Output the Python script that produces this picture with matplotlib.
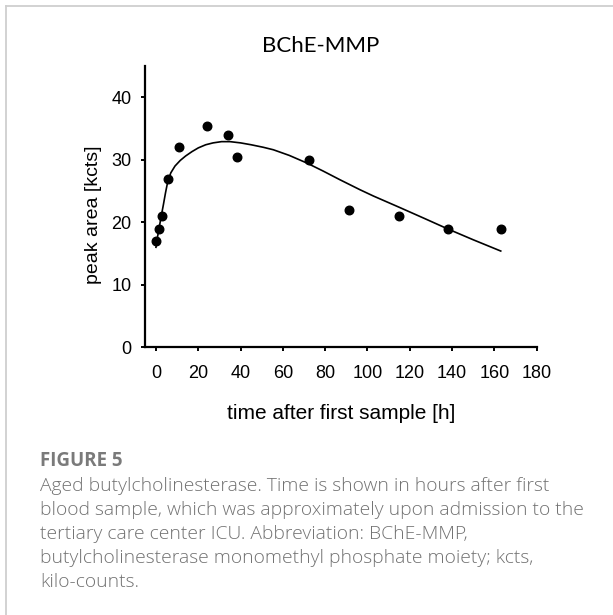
import matplotlib
matplotlib.use("Agg")
import matplotlib.pyplot as plt
from matplotlib.lines import Line2D

# measured data points
time_h = [0, 1.6, 2.7, 5.5, 10.7, 24.3, 33.9, 38.1, 72.2, 91.1, 115.0, 138.2, 163.1]
peak_area = [17.0, 19.0, 21.0, 27.0, 32.0, 35.4, 34.0, 30.5, 30.0, 22.0, 21.0, 19.0, 19.0]

# fitted curve
fit_x = [0, 0.8, 1.6, 2.5, 3.5, 4.5, 5.5, 7.0, 9.0, 11.5, 14.0, 17.0, 20.0, 23.5, 27.0,
         31.0, 35.0, 40.0, 45.0, 50.7, 55.5, 63.0, 71.2, 79.0, 87.0, 96.5, 102.8,
         115.0, 127.0, 138.2, 150.0, 163.0]
fit_y = [16.0, 17.8, 19.3, 21.0, 22.8, 24.7, 26.4, 27.9, 29.0, 29.9, 30.6, 31.3, 31.9,
         32.4, 32.7, 32.9, 32.9, 32.7, 32.4, 32.0, 31.6, 30.7, 29.5, 28.2, 26.8, 25.2,
         24.2, 22.4, 20.6, 18.9, 17.2, 15.4]

x_ticks = [0, 20, 40, 60, 80, 100, 120, 140, 160, 180]
y_ticks = [0, 10, 20, 30, 40]

W, H = 613, 615
fig = plt.figure(figsize=(W / 100, H / 100), dpi=100)
fig.patch.set_facecolor("white")

ax = fig.add_axes([145.4 / W, 1 - 347.3 / H, 391.3 / W, 281.3 / H])
ax.plot(fit_x, fit_y, color="black", lw=1.2, zorder=2)
ax.scatter(time_h, peak_area, s=38, color="black", zorder=3, clip_on=False)

ax.set_xlim(-5, 180)
ax.set_ylim(0, 45)
ax.set_xticks(x_ticks)
ax.set_yticks(y_ticks)
for s in ["top", "right"]:
    ax.spines[s].set_visible(False)
for s in ["left", "bottom"]:
    ax.spines[s].set_linewidth(1.6)
ax.tick_params(axis="both", direction="out", length=3, width=1.4, labelsize=13)
ax.tick_params(axis="x", pad=10)
ax.tick_params(axis="y", pad=7)
for lab in ax.get_xticklabels() + ax.get_yticklabels():
    lab.set_fontfamily("Liberation Sans")

ax.set_xlabel("time after first sample [h]", fontsize=15, family="Liberation Sans")
ax.xaxis.set_label_coords(0.5, (347.3 - 404) / 281.3)
ax.set_ylabel("peak area [kcts]", fontsize=14, family="Liberation Sans")
ax.yaxis.set_label_coords((102 - 145.4) / 391.3, (347.3 - 215) / 281.3)

fig.text(321 / W, 1 - 46 / H, "BChE-MMP", fontsize=16, family="Lato",
         ha="center", va="center")

# frame lines
fig.add_artist(Line2D([6 / W, 6 / W], [0, 1 - 6 / H], transform=fig.transFigure,
                      color="#cfcfcf", lw=1.3))
fig.add_artist(Line2D([6 / W, 1], [1 - 6 / H, 1 - 6 / H], transform=fig.transFigure,
                      color="#cfcfcf", lw=1.3))

cap_color = "#727272"
fig.text(40 / W, 1 - 461 / H, "FIGURE 5", fontsize=13.5, family="Open Sans",
         weight="bold", color="#7a7a7a", va="center")
lines = [
    "Aged butylcholinesterase. Time is shown in hours after first",
    "blood sample, which was approximately upon admission to the",
    "tertiary care center ICU. Abbreviation: BChE-MMP,",
    "butylcholinesterase monomethyl phosphate moiety; kcts,",
    "kilo-counts.",
]
ys = [486, 510, 534, 558, 582]
for t, y in zip(lines, ys):
    fig.text(40 / W, 1 - y / H, t, fontsize=13.9, family="Open Sans",
             weight="light", color=cap_color, va="center")

fig.savefig("out.png", dpi=100, facecolor="white")
